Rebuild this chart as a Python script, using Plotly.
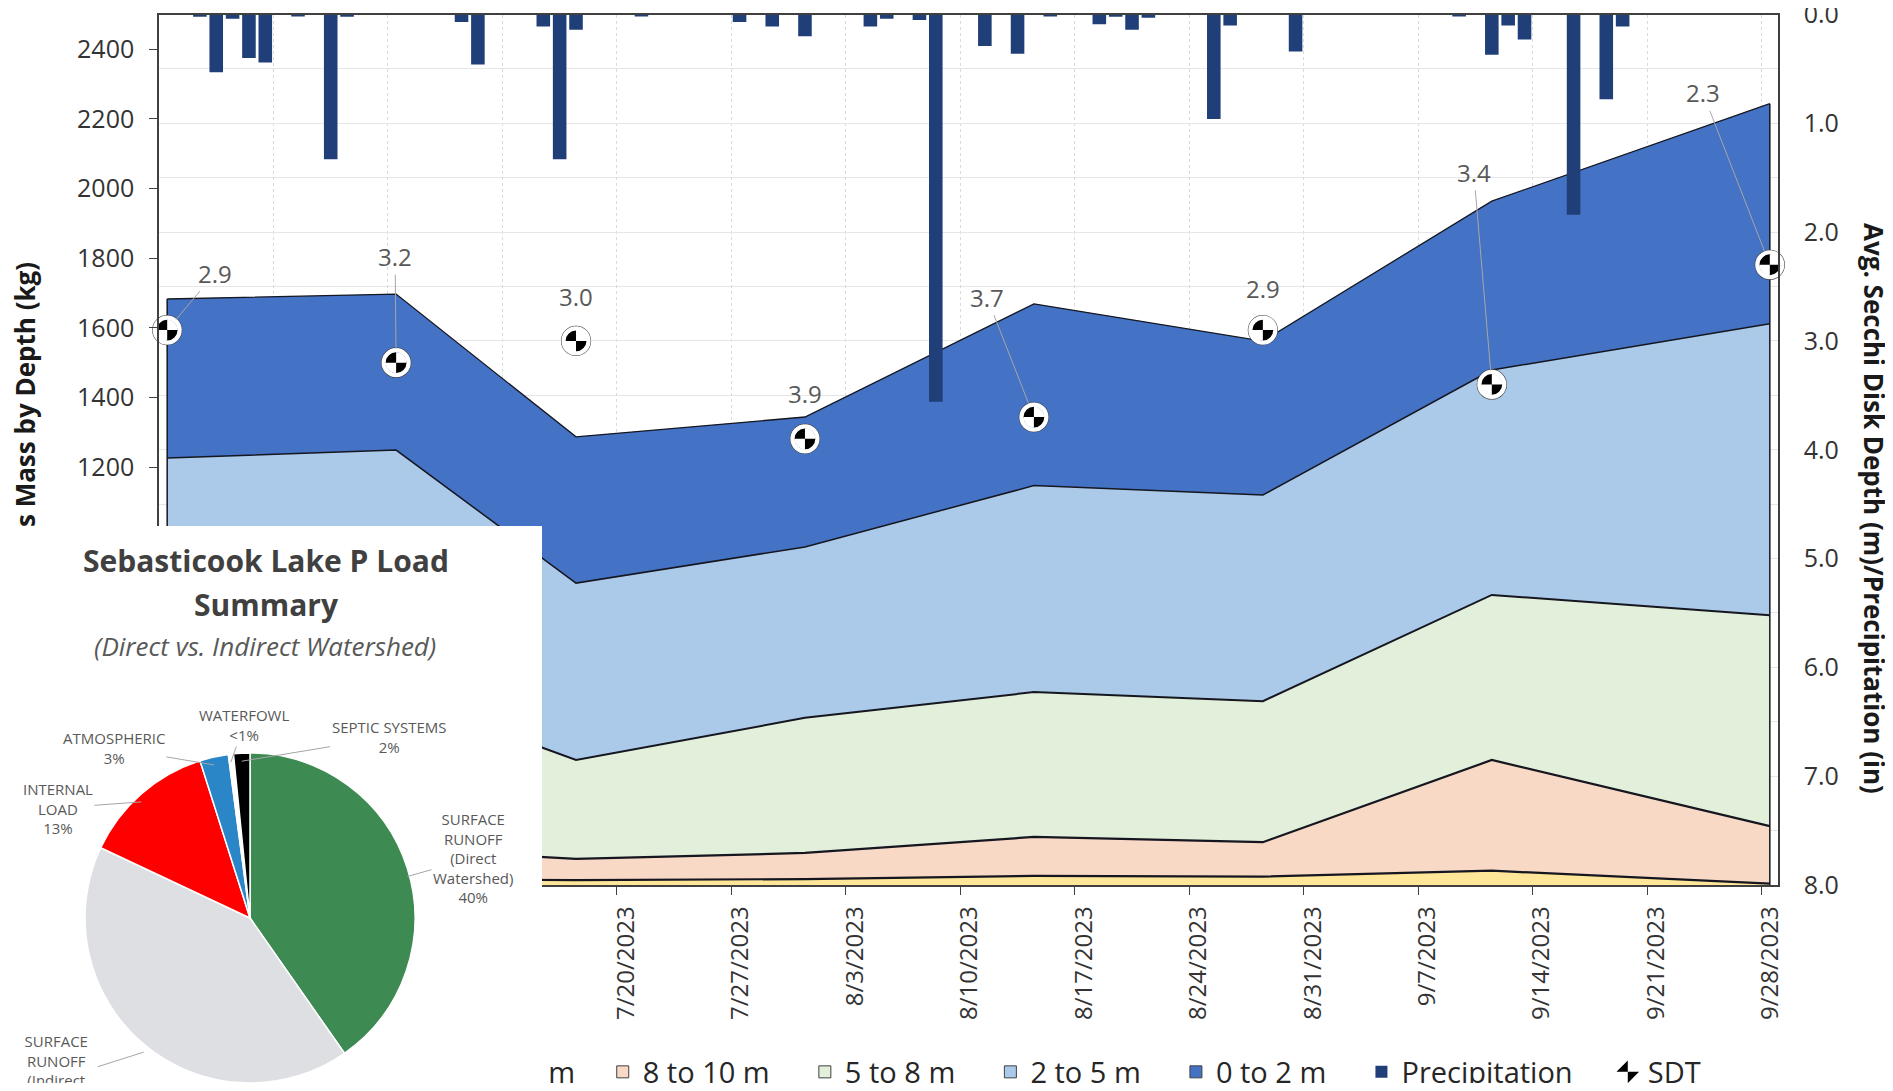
import math
import pandas as pd
import plotly.graph_objects as go

# the page body adds an 8 px margin, so the figure is laid out in page pixels minus 8
OFF = 8
FW, FH = 1893 - 2 * OFF, 1091 - 2 * OFF

# phosphorus mass by depth layer (kg) on each sampling date
sample_dates = pd.to_datetime(["2023-06-22", "2023-07-06", "2023-07-17", "2023-07-31",
                               "2023-08-14", "2023-08-28", "2023-09-11", "2023-09-28"])
mass_10_plus = [17, 17, 14, 17, 26, 24, 41, 4]
mass_8_10 = [83, 86, 61, 75, 112, 99, 318, 165]
mass_5_8 = [430, 445, 284, 388, 416, 405, 474, 606]
mass_2_5 = [696, 701, 508, 491, 593, 592, 646, 837]
mass_0_2 = [457, 448, 420, 373, 522, 442, 485, 632]

# secchi disk transparency (m)
sdt = [2.9, 3.2, 3.0, 3.9, 3.7, 2.9, 3.4, 2.3]

# daily precipitation (in)
precip_dates = pd.to_datetime([
    "2023-06-24", "2023-06-25", "2023-06-26", "2023-06-27", "2023-06-28", "2023-06-30",
    "2023-07-02", "2023-07-03", "2023-07-10", "2023-07-11", "2023-07-15", "2023-07-16",
    "2023-07-17", "2023-07-21", "2023-07-27", "2023-07-29", "2023-07-31", "2023-08-04",
    "2023-08-05", "2023-08-07", "2023-08-08", "2023-08-11", "2023-08-13", "2023-08-15",
    "2023-08-18", "2023-08-19", "2023-08-20", "2023-08-21", "2023-08-25", "2023-08-26",
    "2023-08-30", "2023-09-09", "2023-09-11", "2023-09-12", "2023-09-13", "2023-09-16",
    "2023-09-18", "2023-09-19"])
precip_in = [0.02, 0.53, 0.04, 0.40, 0.44, 0.01,
             1.33, 0.02, 0.07, 0.46, 0.11, 1.33,
             0.14, 0.01, 0.07, 0.11, 0.20, 0.11,
             0.04, 0.05, 3.56, 0.29, 0.36, 0.01,
             0.09, 0.02, 0.14, 0.03, 0.96, 0.10,
             0.34, 0.01, 0.37, 0.10, 0.23, 1.84,
             0.78, 0.11]

# weekly axis labels
week_dates = pd.date_range("2023-06-22", "2023-09-28", freq="7D")
week_labels = [f"{d.month}/{d.day}/{d.year}" for d in week_dates]

# pie inset: P load summary (%)
pie_labels = ["SURFACE RUNOFF (Direct Watershed)", "SURFACE RUNOFF (Indirect Watershed)",
              "INTERNAL LOAD", "ATMOSPHERIC", "WATERFOWL", "SEPTIC SYSTEMS"]
pie_values = [40.3, 41.7, 13.1, 2.8, 0.5, 1.6]
pie_text = ["SURFACE<br>RUNOFF<br>(Direct<br>Watershed)<br>40%",
            "SURFACE<br>RUNOFF<br>(Indirect<br>Watershed)<br>42%",
            "INTERNAL<br>LOAD<br>13%", "ATMOSPHERIC<br>3%", "WATERFOWL<br>&lt;1%",
            "SEPTIC SYSTEMS<br>2%"]
pie_colors = ["#3E8A53", "#DDDFE3", "#FF0000", "#2B86C8", "#FFFFFF", "#000000"]


def px_x(px):
    return (px - OFF) / FW


def px_y(py):
    return 1 - (py - OFF) / FH


nb = "\u00a0"
layer_names = ["10+ m", "8 to 10 m", "5 to 8 m", "2 to 5 m", "0 to 2 m"]
layer_pads = [3, 4, 4, 4, 4]
layer_values = [mass_10_plus, mass_8_10, mass_5_8, mass_2_5, mass_0_2]
layer_colors = ["#FFE699", "#F8D9C6", "#E2EFDA", "#ABC9E9", "#4472C4"]
layer_widths = [2.2, 2.2, 2.0, 1.5, 1.3]
edge_col = "#15161f"

fig = go.Figure()

# stacked areas
for name, vals, color, lw in zip(layer_names, layer_values, layer_colors, layer_widths):
    fig.add_trace(go.Scatter(x=sample_dates, y=vals, name=name, mode="lines", stackgroup="mass",
                             line=dict(color=edge_col, width=lw), fillcolor=color,
                             showlegend=False, hoverinfo="skip"))

# closing edges at both ends of the stacked area
for idx in (0, -1):
    top = sum(v[idx] for v in layer_values)
    fig.add_trace(go.Scatter(x=[sample_dates[idx]] * 2, y=[0, top], mode="lines",
                             line=dict(color=edge_col, width=1.5), showlegend=False,
                             hoverinfo="skip"))

# white background of the inset (own subplot, so it sits above the main chart)
fig.add_trace(go.Scatter(x=[0, 1, 1, 0, 0], y=[0, 0, 1, 1, 0], xaxis="x2", yaxis="y3",
                         mode="lines", fill="toself", fillcolor="white", line=dict(width=0),
                         showlegend=False, hoverinfo="skip"))

# legend squares for the depth layers
for name, color, p in zip(layer_names, layer_colors, layer_pads):
    fig.add_trace(go.Bar(x=[None], y=[None], xaxis="x2", yaxis="y3", name=name + nb * p,
                         marker=dict(color=color, line=dict(color="#404040", width=1))))

# precipitation bars hanging from the top on the reversed right axis
fig.add_trace(go.Bar(x=precip_dates, y=precip_in, yaxis="y2", name="Precipitation" + nb * 4,
                     width=0.83 * 86400000, marker=dict(color="#203F78", line=dict(width=0)),
                     hovertemplate="%{x|%m/%d}: %{y:.2f} in<extra></extra>"))

# secchi disk markers built from layered symbols
sdt_styles = [
    dict(symbol="circle-open", size=29, color="#3A3A3A", line=dict(width=1.2)),
    dict(symbol="circle", size=21, color="white", line=dict(width=0)),
    dict(symbol="bowtie", size=21, color="black", angle=45, line=dict(width=0)),
    dict(symbol="circle-open", size=25, color="white", line=dict(width=4.2)),
]
for i, mk in enumerate(sdt_styles):
    fig.add_trace(go.Scatter(x=sample_dates, y=sdt, yaxis="y2", mode="markers", name="SDT",
                             marker=mk, cliponaxis=False, showlegend=(i == 2),
                             hoverinfo="skip" if i != 2 else None))

# pie inset
pie_cx, pie_cy, pie_r = 250, 926, 165
fig.add_trace(go.Pie(labels=pie_labels, values=pie_values, sort=False, direction="clockwise",
                     rotation=0, textinfo="none", showlegend=False,
                     marker=dict(colors=pie_colors, line=dict(color="white", width=1.5)),
                     domain=dict(x=[px_x(pie_cx - pie_r), px_x(pie_cx + pie_r)],
                                 y=[0, 2 * pie_r / FH])))

annotations = []

# SDT data labels (pixel offsets from each marker)
sdt_label_dx = [48, -1, 0, 0, -47, 0, -18, -67]
sdt_label_dy = [-57, -106, -44, -45, -120, -42, -212, -172]
sdt_leader = [True, True, False, False, True, False, True, True]
for d, v, dx, dy, lead in zip(sample_dates, sdt, sdt_label_dx, sdt_label_dy, sdt_leader):
    annotations.append(dict(x=d, y=v, xref="x", yref="y2", text=f"{v:.1f}", showarrow=True,
                            ax=dx, ay=dy, arrowhead=0, arrowwidth=1, standoff=14,
                            arrowcolor="#A6A6A6" if lead else "rgba(0,0,0,0)",
                            font=dict(size=24, color="#595959")))

# axis titles
annotations.append(dict(xref="paper", yref="paper", x=px_x(5), y=px_y(260), xanchor="left",
                        yanchor="top", textangle=-90, showarrow=False,
                        text="<b>Phosphorus Mass by Depth (kg)</b>",
                        font=dict(size=26, color="#1a1a1a")))
annotations.append(dict(xref="paper", yref="paper", x=px_x(1874), y=px_y(508), xanchor="center",
                        yanchor="middle", textangle=90, showarrow=False,
                        text="<b>Avg. Secchi Disk Depth (m)/Precipitation (in)</b>",
                        font=dict(size=26, color="#1a1a1a")))

# white patches where the inset hides the axis title and first legend entry
annotations.append(dict(xref="paper", yref="paper", x=0, y=px_y(526), xanchor="left", yanchor="top",
                        width=64, height=194, bgcolor="white", borderpad=0, showarrow=False,
                        text=nb))
annotations.append(dict(xref="paper", yref="paper", x=px_x(378), y=px_y(1046), xanchor="left",
                        yanchor="top", width=164, height=50, bgcolor="white", borderpad=0,
                        showarrow=False, text=nb))

# inset titles
annotations.append(dict(xref="paper", yref="paper", x=px_x(266), y=px_y(560), xanchor="center",
                        yanchor="middle", showarrow=False,
                        text="<b>Sebasticook Lake P Load</b>", font=dict(size=30, color="#404040")))
annotations.append(dict(xref="paper", yref="paper", x=px_x(266), y=px_y(604), xanchor="center",
                        yanchor="middle", showarrow=False,
                        text="<b>Summary</b>", font=dict(size=30, color="#404040")))
annotations.append(dict(xref="paper", yref="paper", x=px_x(265), y=px_y(646), xanchor="center",
                        yanchor="middle", showarrow=False,
                        text="<i>(Direct vs. Indirect Watershed)</i>",
                        font=dict(size=26, color="#595959")))

# pie labels with leader lines to the middle of each slice
label_cx = [473, 56, 58, 114, 244, 389]
label_cy = [858, 1080, 808, 748, 725, 737]
total = sum(pie_values)
cum = 0
for val, txt, lx, ly in zip(pie_values, pie_text, label_cx, label_cy):
    mid = math.radians(360 * (cum + val / 2) / total)
    cum += val
    ex = pie_cx + pie_r * math.sin(mid)
    ey = pie_cy - pie_r * math.cos(mid)
    annotations.append(dict(xref="paper", yref="paper", x=px_x(ex), y=px_y(ey), text=txt,
                            showarrow=True, ax=lx - ex, ay=ly - ey, arrowhead=0, arrowwidth=1,
                            arrowcolor="#A6A6A6", standoff=0,
                            font=dict(size=15, color="#595959")))

axis_col = "#404040"
fig.update_layout(
    template="none",
    width=FW, height=FH, margin=dict(l=0, r=0, t=0, b=0, autoexpand=False),
    paper_bgcolor="white", plot_bgcolor="white",
    font=dict(family="Open Sans", color="#333333"),
    barmode="overlay",
    legend=dict(orientation="h", x=px_x(451), xanchor="left", y=px_y(1072), yanchor="middle",
                font=dict(size=29, color="#262626"), bgcolor="rgba(0,0,0,0)",
                traceorder="normal", itemwidth=30),
    xaxis=dict(domain=[px_x(159), px_x(1778)], anchor="y", type="date", automargin=False,
               range=["2023-06-21 12:00", "2023-09-28 12:00"],
               tickvals=week_dates - pd.Timedelta(hours=12), ticktext=week_labels,
               tickangle=-90, ticklabelshift=9, ticklabelstandoff=2, ticklabeloverflow="allow",
               ticks="outside", ticklen=8, tickcolor=axis_col, tickfont=dict(size=24),
               showline=True, mirror=True, linecolor=axis_col, linewidth=1.5,
               showgrid=True, gridcolor="#DADADA", griddash="dot", zeroline=False),
    yaxis=dict(domain=[px_y(885), px_y(14.5)], range=[0, 2500], tick0=0, dtick=200,
               automargin=False, ticklabeloverflow="allow",
               ticks="outside", ticklen=8, tickcolor=axis_col, tickfont=dict(size=25),
               ticklabelstandoff=10, showline=True, linecolor=axis_col, linewidth=1.5,
               showgrid=False, zeroline=False),
    yaxis2=dict(overlaying="y", side="right", range=[8, 0], tick0=0, dtick=1, tickformat=".1f",
                automargin=False, ticklabeloverflow="allow",
                ticks="", tickfont=dict(size=25), ticklabelstandoff=19,
                showline=True, linecolor=axis_col, linewidth=1.5,
                showgrid=True, gridcolor="#E6E6E6",
                minor=dict(dtick=0.5, showgrid=True, gridcolor="#E6E6E6"), zeroline=False),
    xaxis2=dict(domain=[0, px_x(542)], anchor="y3", range=[0, 1], visible=False,
                fixedrange=True, automargin=False),
    yaxis3=dict(domain=[0, px_y(526)], anchor="x2", range=[0, 1], visible=False,
                fixedrange=True, automargin=False),
    annotations=annotations,
)

fig.write_html("out.html")
